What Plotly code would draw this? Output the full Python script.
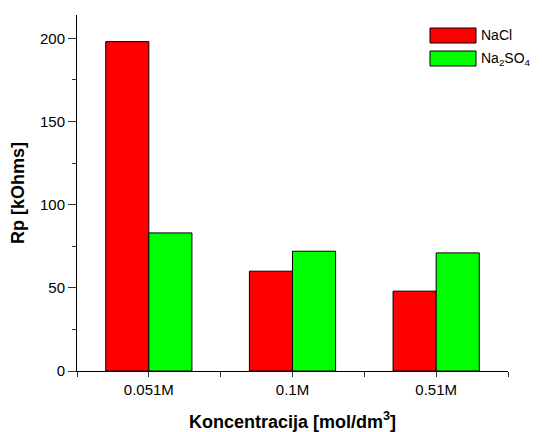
import plotly.graph_objects as go

categories = ["0.051M", "0.1M", "0.51M"]
nacl = [198, 60, 48]
na2so4 = [83, 72, 71]
series_names = ["NaCl", "Na<sub>2</sub>SO<sub>4</sub>"]
series_colors = ["#ff0000", "#00ff00"]

fig = go.Figure()
for name, vals, col in zip(series_names, [nacl, na2so4], series_colors):
    fig.add_trace(go.Bar(x=categories, y=vals, name=name,
                         marker=dict(color=col, line=dict(color="black", width=1)),
                         showlegend=False))

font = "Liberation Sans, Arial, sans-serif"
# page body has an 8px default margin, so the figure is offset by 8px;
# size 534x424 keeps it inside the 542x432 window
fig.update_layout(
    width=534, height=424,
    margin=dict(l=69, r=34, t=7, b=61),
    paper_bgcolor="white", plot_bgcolor="white",
    barmode="group", bargap=0.4, bargroupgap=0,
    font=dict(family=font, size=15, color="black"),
)
fig.update_xaxes(
    type="category", categoryorder="array", categoryarray=categories,
    automargin=False,
    showline=True, linecolor="black", linewidth=1,
    ticks="outside", ticklen=5, tickcolor="#333", showgrid=False,
    minor=dict(ticks="outside", ticklen=5, tickcolor="#333", tickvals=[-0.5, 0.5, 1.5, 2.5]),
    range=[-0.5, 2.5],
    title=dict(text="<b>Koncentracija [mol/dm<sup>3</sup>]</b>", font=dict(size=18), standoff=20),
)
fig.update_yaxes(
    range=[0, 214], automargin=False,
    showline=True, linecolor="black", linewidth=1,
    ticks="outside", ticklen=8, tickcolor="#333", showgrid=False, zeroline=False,
    tickvals=[0, 50, 100, 150, 200],
    minor=dict(ticks="outside", ticklen=4, tickcolor="#333", dtick=25, tick0=0, showgrid=False),
    title=dict(text="<b>Rp [kOhms]</b>", font=dict(size=18), standoff=12),
)

# custom legend (positions in reference page pixels, converted to plot-area fractions)
for i, (name, col) in enumerate(zip(series_names, series_colors)):
    y0 = [28, 51][i]
    fig.add_shape(type="rect", xref="paper", yref="paper",
                  x0=(430 - 77) / 431, x1=(476 - 77) / 431,
                  y0=(371 - (y0 + 15)) / 356, y1=(371 - y0) / 356,
                  fillcolor=col, line=dict(color="black", width=1))
    fig.add_annotation(xref="paper", yref="paper", x=(479 - 77) / 431, y=(371 - (y0 + 7.5)) / 356,
                       text=name, showarrow=False, xanchor="left", yanchor="middle",
                       font=dict(size=14))

fig.write_html("out.html")
